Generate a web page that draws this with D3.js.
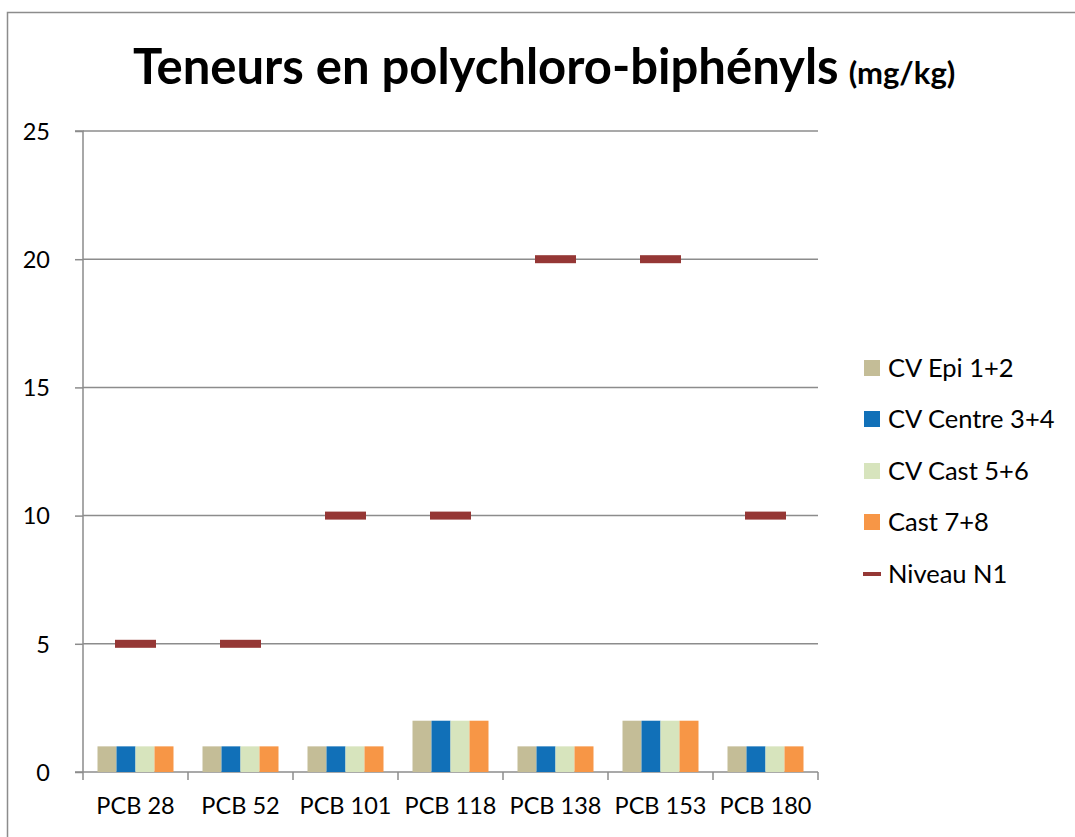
<!DOCTYPE html>
<html>
<head>
<meta charset="utf-8">
<script src="https://cdn.jsdelivr.net/npm/d3@7/dist/d3.min.js"></script>
<style>
  body { margin: 0; background: #fff; }
  svg { display: block; font-family: Lato, "Open Sans", sans-serif; }
</style>
</head>
<body>
<svg id="chart" width="1075" height="837"></svg>
<script>
// data
const categories = ['PCB 28', 'PCB 52', 'PCB 101', 'PCB 118', 'PCB 138', 'PCB 153', 'PCB 180'];
const seriesNames = ['CV Epi 1+2', 'CV Centre 3+4', 'CV Cast 5+6', 'Cast 7+8'];
const seriesColors = ['#c4bd97', '#1170b8', '#d7e4bd', '#f79646'];
const cvEpi = [1, 1, 1, 2, 1, 2, 1];
const cvCentre = [1, 1, 1, 2, 1, 2, 1];
const cvCast = [1, 1, 1, 2, 1, 2, 1];
const cast78 = [1, 1, 1, 2, 1, 2, 1];
const niveauN1 = [5, 5, 10, 10, 20, 20, 10];
const yTicks = [0, 5, 10, 15, 20, 25];

const seriesValues = [cvEpi, cvCentre, cvCast, cast78];
const svg = d3.select('#chart');

// outer frame (only left and top edges show in the picture)
svg.append('path')
    .attr('d', 'M7.5,837 V12.5 H1075')
    .attr('fill', 'none').attr('stroke', '#8c8c8c').attr('stroke-width', 1.5);

const m = { left: 83, right: 818, top: 131, bottom: 772 };
const x = d3.scaleBand().domain(categories).range([m.left, m.right]);
const xInner = d3.scaleBand().domain(seriesNames).range([0, 76]);
const y = d3.scaleLinear().domain([0, 25]).range([m.bottom, m.top]);
const grey = '#8c8c8c';
const axisFont = 23.5;

// gridlines
svg.append('g').selectAll('line').data(yTicks.filter(d => d > 0)).join('line')
    .attr('x1', m.left).attr('x2', m.right)
    .attr('y1', d => y(d)).attr('y2', d => y(d))
    .attr('stroke', grey).attr('stroke-width', 1.5);

// y axis
const yAxis = svg.append('g').attr('transform', `translate(${m.left},0)`)
    .call(d3.axisLeft(y).tickValues(yTicks).tickSize(8).tickPadding(10));
yAxis.attr('font-family', null).attr('font-size', null);
yAxis.select('.domain').attr('stroke', grey).attr('stroke-width', 1.5).attr('d', `M-8,${m.top}H0V${m.bottom}`);
yAxis.selectAll('.tick line').attr('stroke', grey).attr('stroke-width', 1.5);
yAxis.selectAll('.tick text').attr('font-size', axisFont).attr('fill', '#000').attr('dy', '0.35em').attr('x', -33);

// x axis
const xAxis = svg.append('g').attr('transform', `translate(0,${m.bottom})`)
    .call(d3.axisBottom(x).tickSize(0).tickPadding(25));
xAxis.attr('font-family', null).attr('font-size', null);
xAxis.select('.domain').attr('stroke', grey).attr('stroke-width', 1.5).attr('d', `M${m.left - 8},0H${m.right}`);
xAxis.selectAll('.tick text').attr('font-size', axisFont).attr('fill', '#000');
// category separators
svg.append('g').selectAll('line').data(d3.range(categories.length + 1)).join('line')
    .attr('x1', i => m.left + i * x.step()).attr('x2', i => m.left + i * x.step())
    .attr('y1', m.bottom).attr('y2', m.bottom + 8)
    .attr('stroke', grey).attr('stroke-width', 1.5);

// bars
const groupOffset = (x.bandwidth() - 76) / 2;
seriesValues.forEach((vals, si) => {
  svg.append('g').selectAll('rect').data(vals).join('rect')
      .attr('x', (d, i) => x(categories[i]) + groupOffset + xInner(seriesNames[si]))
      .attr('width', xInner.bandwidth())
      .attr('y', d => y(d))
      .attr('height', d => y(0) - y(d))
      .attr('fill', seriesColors[si]);
});

// Niveau N1 markers (dash markers, no connecting line)
svg.append('g').selectAll('rect').data(niveauN1).join('rect')
    .attr('x', (d, i) => x(categories[i]) + x.bandwidth() / 2 - 20.5)
    .attr('y', d => y(d) - 4)
    .attr('width', 41).attr('height', 8)
    .attr('fill', '#953735');

// title
const title = svg.append('text').attr('x', 133).attr('y', 84).attr('font-weight', 700).attr('fill', '#000');
title.append('tspan').attr('font-size', 49).text('Teneurs en polychloro-biphényls');
title.append('tspan').attr('font-size', 31).attr('dx', 10).text('(mg/kg)');

// legend
const legendY = [368, 419, 471, 522, 574];
const legend = svg.append('g');
seriesNames.forEach((name, i) => {
  legend.append('rect').attr('x', 864).attr('y', legendY[i] - 8).attr('width', 16).attr('height', 16).attr('fill', seriesColors[i]);
  legend.append('text').attr('x', 888).attr('y', legendY[i]).attr('dy', '0.35em').attr('font-size', 25.5).text(name);
});
legend.append('rect').attr('x', 863).attr('y', legendY[4] - 2).attr('width', 18).attr('height', 4).attr('fill', '#953735');
legend.append('text').attr('x', 888).attr('y', legendY[4]).attr('dy', '0.35em').attr('font-size', 25.5).text('Niveau N1');
</script>
</body>
</html>
